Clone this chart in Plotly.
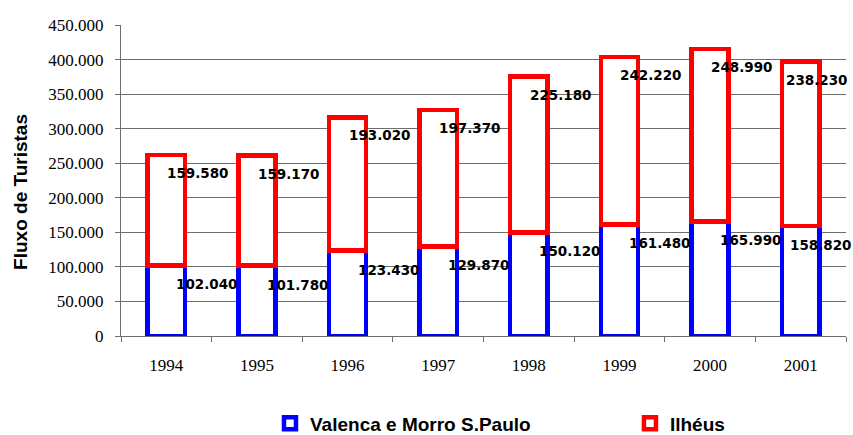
import plotly.graph_objects as go

years = [1994, 1995, 1996, 1997, 1998, 1999, 2000, 2001]
valenca = [102040, 101780, 123430, 129870, 150120, 161480, 165990, 158820]
ilheus = [159580, 159170, 193020, 197370, 225180, 242220, 248990, 238230]
y_ticks = [0, 50000, 100000, 150000, 200000, 250000, 300000, 350000, 400000, 450000]

BLUE = "#0000FF"
RED = "#FF0000"
GRID = "#6e6e6e"


def fmt(v):
    return f"{v:,.0f}".replace(",", ".")


fig = go.Figure()
fig.add_trace(go.Bar(
    x=years, y=valenca, name="Valenca e Morro S.Paulo",
    marker=dict(color="white", line=dict(color=BLUE, width=4.5)),
    legend="legend", hoverinfo="skip",
))
fig.add_trace(go.Bar(
    x=years, y=ilheus, name="Ilhéus",
    marker=dict(color="white", line=dict(color=RED, width=4.5)),
    legend="legend2", hoverinfo="skip",
))

label_font = dict(family="DejaVu Sans", size=13.5, color="black", weight="bold")
annotations = []
last = len(years) - 1
for i, (yr, b, r) in enumerate(zip(years, valenca, ilheus)):
    # labels near the right edge are pulled inward so they stay on the page
    bshift = 20 if i == last else 41
    rshift = 16 if i == last else 32
    annotations.append(dict(x=yr, y=b, xref="x", yref="y", text=fmt(b), showarrow=False,
                            xshift=bshift, yshift=-19, font=label_font))
    annotations.append(dict(x=yr, y=b + r, xref="x", yref="y", text=fmt(r), showarrow=False,
                            xshift=rshift, yshift=-18, font=label_font))

annotations.append(dict(
    text="Fluxo de Turistas", xref="paper", yref="paper", x=-0.139, y=0.464,
    textangle=-90, showarrow=False, xanchor="center", yanchor="middle",
    font=dict(family="Liberation Sans, Arial", size=19, color="black", weight="bold"),
))

legend_font = dict(family="Liberation Sans, Arial", size=19, color="black", weight="bold")

fig.update_layout(
    barmode="stack",
    bargap=0.59,
    width=853, height=435,
    margin=dict(l=121, r=7, t=25, b=98.5, autoexpand=False),
    paper_bgcolor="white", plot_bgcolor="white",
    separators=",.",
    showlegend=True,
    legend=dict(orientation="h", x=0.2055, y=-0.281, xanchor="left", yanchor="middle",
                font=legend_font, bgcolor="rgba(0,0,0,0)"),
    legend2=dict(orientation="h", x=0.702, y=-0.281, xanchor="left", yanchor="middle",
                 font=legend_font, bgcolor="rgba(0,0,0,0)"),
    annotations=annotations,
    xaxis=dict(
        range=[years[0] - 0.5, years[-1] + 0.5],
        tickvals=years, tickformat="d",
        showline=True, linecolor=GRID, linewidth=1,
        ticks="", showgrid=False, zeroline=False, ticklabelstandoff=14,
        minor=dict(tick0=years[0] - 0.5, dtick=1, ticks="outside", ticklen=5,
                   tickcolor=GRID, showgrid=False),
        tickfont=dict(family="Liberation Serif, Times New Roman", size=17, color="black"),
    ),
    yaxis=dict(
        range=[0, 450000], tickvals=y_ticks, tickformat=",.0f",
        showline=True, linecolor=GRID, linewidth=1,
        ticks="outside", ticklen=5, tickcolor=GRID, ticklabelstandoff=8,
        showgrid=True, gridcolor=GRID, gridwidth=1, zeroline=False,
        tickfont=dict(family="Liberation Serif, Times New Roman", size=17, color="black"),
    ),
)

fig.write_html(
    "out.html",
    config={"displayModeBar": False},
    post_script="document.body.style.margin='0';document.body.style.overflow='hidden';",
)
